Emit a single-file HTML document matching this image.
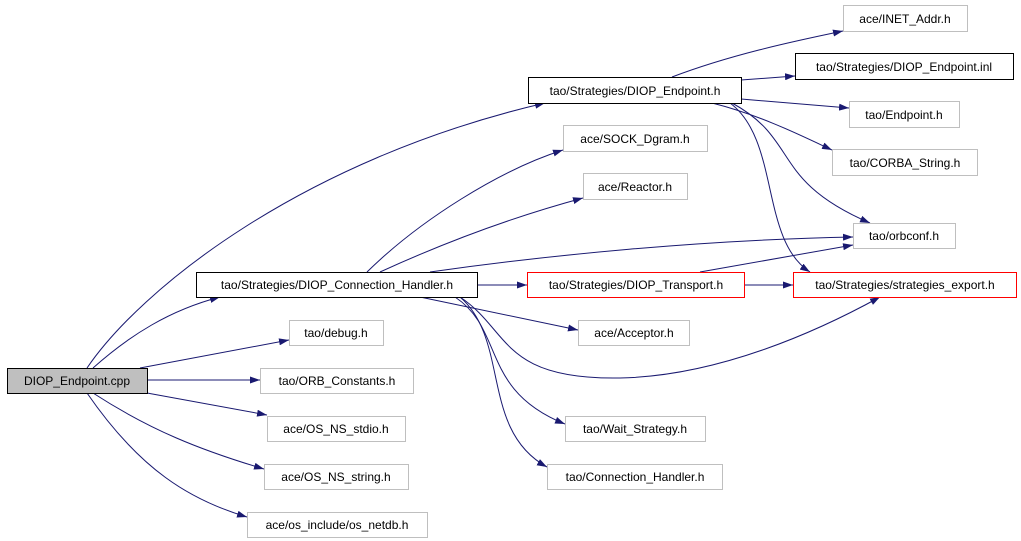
<!DOCTYPE html>
<html><head><meta charset="utf-8"><style>
body{margin:0;background:#fff;width:1021px;height:541px;overflow:hidden}
svg{display:block}
text{font-family:"Liberation Sans","DejaVu Sans",sans-serif;font-size:12px;fill:#000}
</style></head><body>
<svg width="1021" height="541" viewBox="0 0 1021 541" xmlns="http://www.w3.org/2000/svg">
<defs><marker id="a" viewBox="0 0 10 7" refX="10" refY="3.5" markerWidth="10" markerHeight="7" markerUnits="userSpaceOnUse" orient="auto"><path d="M0,0 L10,3.5 L0,7 z" fill="#191970"/></marker></defs>
<g fill="none" stroke="#191970" stroke-width="1" marker-end="url(#a)">
<path d="M87,368 C140,290 300,160 545,103"/>
<path d="M93,368 C130,335 170,310 220,297"/>
<path d="M140,368 L289,340"/>
<path d="M147,380 L260,380"/>
<path d="M147,393 L267,415"/>
<path d="M93,393 C150,430 200,450 264,469"/>
<path d="M87,393 C140,470 190,500 247,517"/>
<path d="M672,77 C730,55 790,42 843,31"/>
<path d="M741,80 L795,76"/>
<path d="M741,99 L849,108"/>
<path d="M712,103 C760,115 800,135 832,150"/>
<path d="M732,103 C800,140 770,180 870,223"/>
<path d="M730,103 C780,140 760,240 810,272"/>
<path d="M367,272 C420,220 500,170 563,150"/>
<path d="M380,272 C450,240 520,215 583,198"/>
<path d="M430,272 C550,255 700,240 853,237"/>
<path d="M477,285 L527,285"/>
<path d="M420,297 L578,330"/>
<path d="M460,297 C510,330 500,380 620,378 C720,376 820,330 880,297"/>
<path d="M455,297 C505,330 480,390 565,424"/>
<path d="M460,297 C510,340 480,430 547,467"/>
<path d="M700,272 L853,245"/>
<path d="M744,285 L793,285"/>
</g>
<g stroke-width="1">
<rect x="7.5" y="368.5" width="140" height="25" fill="#bfbfbf" stroke="#000"/>
<rect x="196.5" y="272.5" width="281" height="25" fill="#fff" stroke="#000"/>
<rect x="528.5" y="77.5" width="213" height="26" fill="#fff" stroke="#000"/>
<rect x="795.5" y="53.5" width="218" height="26" fill="#fff" stroke="#000"/>
<rect x="527.5" y="272.5" width="217" height="25" fill="#fff" stroke="#f00"/>
<rect x="793.5" y="272.5" width="223" height="25" fill="#fff" stroke="#f00"/>
<g fill="#fff" stroke="#bfbfbf">
<rect x="289.5" y="320.5" width="94" height="25"/>
<rect x="260.5" y="368.5" width="153" height="25"/>
<rect x="267.5" y="416.5" width="138" height="25"/>
<rect x="264.5" y="464.5" width="144" height="25"/>
<rect x="247.5" y="512.5" width="180" height="25"/>
<rect x="843.5" y="5.5" width="124" height="26"/>
<rect x="849.5" y="101.5" width="110" height="26"/>
<rect x="832.5" y="149.5" width="145" height="26"/>
<rect x="563.5" y="125.5" width="144" height="26"/>
<rect x="583.5" y="173.5" width="104" height="26"/>
<rect x="853.5" y="223.5" width="102" height="25"/>
<rect x="578.5" y="320.5" width="111" height="25"/>
<rect x="565.5" y="416.5" width="140" height="25"/>
<rect x="547.5" y="464.5" width="175" height="25"/>
</g>
</g>
<g text-anchor="middle">
<text x="77" y="385">DIOP_Endpoint.cpp</text>
<text x="337" y="289">tao/Strategies/DIOP_Connection_Handler.h</text>
<text x="635" y="95">tao/Strategies/DIOP_Endpoint.h</text>
<text x="904" y="71">tao/Strategies/DIOP_Endpoint.inl</text>
<text x="636" y="289">tao/Strategies/DIOP_Transport.h</text>
<text x="905" y="289">tao/Strategies/strategies_export.h</text>
<text x="336" y="337">tao/debug.h</text>
<text x="337" y="385">tao/ORB_Constants.h</text>
<text x="336" y="433">ace/OS_NS_stdio.h</text>
<text x="336" y="481">ace/OS_NS_string.h</text>
<text x="337" y="529">ace/os_include/os_netdb.h</text>
<text x="905" y="23">ace/INET_Addr.h</text>
<text x="904" y="119">tao/Endpoint.h</text>
<text x="905" y="167">tao/CORBA_String.h</text>
<text x="635" y="143">ace/SOCK_Dgram.h</text>
<text x="635" y="191">ace/Reactor.h</text>
<text x="904" y="240">tao/orbconf.h</text>
<text x="634" y="337">ace/Acceptor.h</text>
<text x="635" y="433">tao/Wait_Strategy.h</text>
<text x="635" y="481">tao/Connection_Handler.h</text>
</g>
</svg>
</body></html>
